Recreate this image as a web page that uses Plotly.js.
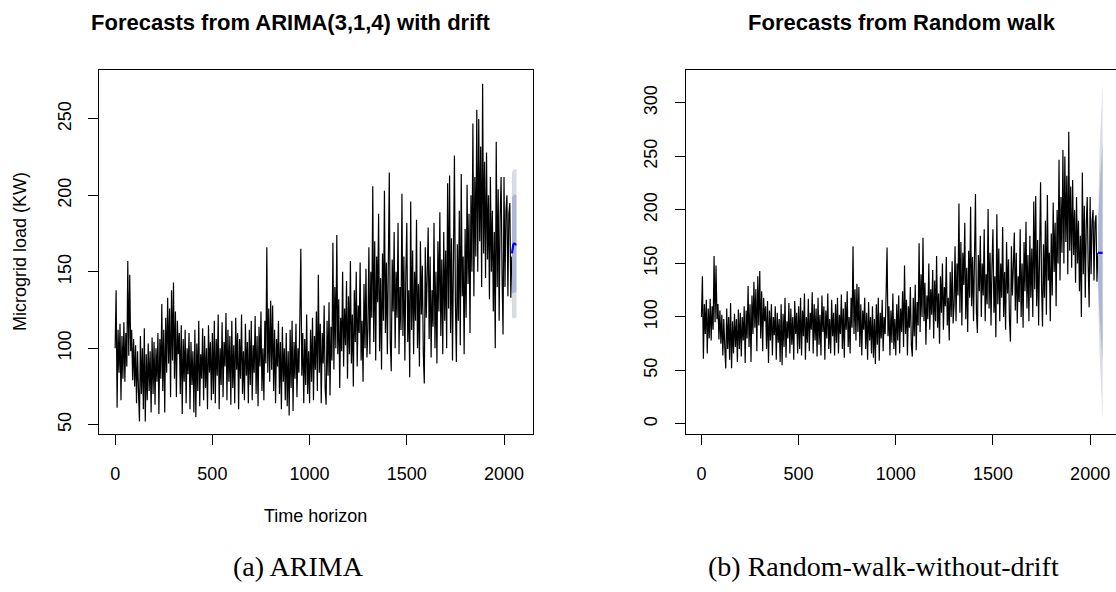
<!DOCTYPE html>
<html><head><meta charset="utf-8">
<script src="https://cdn.plot.ly/plotly-3.0.1.min.js"></script>
<style>html,body{margin:0;padding:0;overflow:hidden;background:#fff}#chart{width:1140px;height:592px}</style>
</head><body><div id="chart"></div>
<script>
// ---- data ----
const timeStart = 0, timeStep = 5;
const load = [
100,138,61,112,84,116,66,108,80,117,78,110,88,157,95,148,98,112,79,106,
75,102,64,98,72,52,108,70,100,60,113,52,96,66,103,72,98,58,107,70,
104,63,100,78,110,57,106,80,129,72,112,58,120,84,133,90,126,68,138,92,
143,80,124,68,118,96,110,70,115,57,106,78,112,64,100,83,110,60,104,76,
98,58,112,55,103,72,118,62,96,80,113,66,108,74,100,60,115,84,104,66,
110,70,118,64,106,82,122,60,100,76,117,68,104,88,123,66,112,78,108,63,
118,74,102,64,120,86,110,60,106,80,122,70,98,66,116,82,104,64,112,76,
118,66,102,84,121,70,108,62,114,88,124,72,100,66,118,90,166,84,126,78,
131,86,128,72,112,64,106,88,118,70,104,60,114,78,100,66,110,62,98,56,
112,74,118,59,104,80,116,68,100,84,120,165,82,110,64,106,76,122,70,98,
64,112,78,120,66,108,86,124,72,148,84,116,64,110,90,128,74,63,118,82,
130,69,114,92,169,86,140,100,174,96,132,74,120,98,150,88,126,102,144,80,
134,96,157,90,122,75,138,104,150,88,128,110,156,92,118,78,142,100,152,94,
112,166,96,150,120,206,104,170,92,160,130,188,98,146,86,162,118,203,110,156,
96,172,215,104,85,158,124,176,100,150,120,182,96,140,112,201,108,160,92,148,
182,104,138,81,196,112,164,96,150,118,184,100,142,88,170,122,154,96,77,166,
120,148,179,106,160,94,138,114,182,100,150,90,170,124,189,108,158,96,176,118,
164,100,208,126,213,110,172,92,186,226,130,91,168,118,190,102,214,134,160,96,
178,120,207,142,188,110,200,150,247,134,212,160,256,150,250,170,232,140,273,162,
222,146,228,158,200,132,212,150,190,124,176,100,235,140,204,118,186,212,148,109,
212,140,190,200,134,188,195,133,160
];
// ARIMA(3,1,4) with drift forecast
const arimaX    = [2041,2044,2048,2052,2056,2060,2064];
const arimaMean = [162,166,168,168.5,168,168,168];
const arimaHi95 = [215,216,217,217,217,217,217];
const arimaLo95 = [120,120,119.5,119.5,119.5,120,120];
const arimaHi80 = [199,200,200,200.5,200.5,200,200];
const arimaLo80 = [136,136,136,136.5,136.5,136.5,136.5];
// Random walk forecast
const rwX    = [2041,2042,2044,2048,2052,2056,2060,2064];
const rwMean = [160,160,160,160,160,160,160,160];
const rwHi95 = [192,205,223,250,270,287,302,318];
const rwLo95 = [128,115,97,70,50,33,18,3];
const rwHi80 = [181,189,201,218,231,242,252,262];
const rwLo80 = [139,131,119,102,89,78,68,58];
const xTicks  = [0,500,1000,1500,2000];
const yTicksA = [50,100,150,200,250];
const yTicksB = [0,50,100,150,200,250,300];

// ---- figure ----
const W = 1140, H = 592;
const time = load.map((_, i) => timeStart + i * timeStep);
const FONT = '"Liberation Sans", Arial, Helvetica, sans-serif';
const SERIF = '"Liberation Serif", "Times New Roman", serif';
const OUTER = '#DADCE4', INNER = '#AEB6D6';
function band(x, hi, lo) { return { x: x.concat(x.slice().reverse()), y: hi.concat(lo.slice().reverse()) }; }
function fanTraces(xa, ya, fx, hi95, lo95, hi80, lo80, mean) {
  const b95 = band(fx, hi95, lo95), b80 = band(fx, hi80, lo80);
  return [
    {type:'scatter', mode:'lines', x:b95.x, y:b95.y, fill:'toself', fillcolor:OUTER, line:{width:0, color:OUTER}, xaxis:xa, yaxis:ya, hoverinfo:'skip', showlegend:false},
    {type:'scatter', mode:'lines', x:b80.x, y:b80.y, fill:'toself', fillcolor:INNER, line:{width:0, color:INNER}, xaxis:xa, yaxis:ya, hoverinfo:'skip', showlegend:false},
    {type:'scatter', mode:'lines', x:fx, y:mean, line:{color:'#0000FF', width:2.2}, xaxis:xa, yaxis:ya, showlegend:false}
  ];
}
const traces = [
  {type:'scatter', mode:'lines', x:time, y:load, line:{color:'#000', width:1.2}, xaxis:'x', yaxis:'y', showlegend:false},
  ...fanTraces('x','y', arimaX, arimaHi95, arimaLo95, arimaHi80, arimaLo80, arimaMean),
  {type:'scatter', mode:'lines', x:time, y:load, line:{color:'#000', width:1.2}, xaxis:'x2', yaxis:'y2', showlegend:false},
  ...fanTraces('x2','y2', rwX, rwHi95, rwLo95, rwHi80, rwLo80, rwMean)
];
function xax(dom, anchor) {
  return {domain:dom, anchor:anchor, range:[-81.52, 2146.52], tickvals:xTicks, ticktext:xTicks.map(String),
    ticks:'outside', ticklen:10, tickwidth:1, tickcolor:'#000', showline:true, mirror:true, linecolor:'#000', linewidth:1,
    showgrid:false, zeroline:false, tickfont:{family:FONT, size:18, color:'#000'}, ticklabelstandoff:13, automargin:false};
}
function yax(dom, anchor, range, tv) {
  return {domain:dom, anchor:anchor, range:range, tickvals:tv, ticktext:tv.map(String), tickangle:-90,
    ticks:'outside', ticklen:10, tickwidth:1, tickcolor:'#000', showline:true, mirror:true, linecolor:'#000', linewidth:1,
    showgrid:false, zeroline:false, tickfont:{family:FONT, size:18, color:'#000'}, ticklabelstandoff:10, automargin:false};
}
const yDom = [1 - 434 / H, 1 - 70 / H];
const ann = (text, px, py, size, family, extra) => Object.assign({text:text, xref:'paper', yref:'paper', x:px / W, y:1 - py / H,
  xanchor:'center', yanchor:'middle', showarrow:false, font:{family:family, size:size, color:'#000'}}, extra || {});
const layout = {
  width:W, height:H, margin:{l:0, r:0, t:0, b:0}, paper_bgcolor:'#fff', plot_bgcolor:'#fff', showlegend:false,
  xaxis: xax([99.3 / W, 532.5 / W], 'y'),
  yaxis: yax(yDom, 'x', [43.88, 282.02], yTicksA),
  xaxis2: xax([685.6 / W, 1118.6 / W], 'y2'),
  yaxis2: yax(yDom, 'x2', [-9.35, 330.8], yTicksB),
  annotations: [
    ann('<b>Forecasts from ARIMA(3,1,4) with drift</b>', 291, 23, 22, FONT),
    ann('<b>Forecasts from Random walk</b>', 902, 23, 22, FONT),
    ann('Microgrid load (KW)', 20, 252, 18, FONT, {textangle:-90}),
    ann('Time horizon', 316, 516, 18, FONT),
    ann('(a) ARIMA', 298, 566, 28, SERIF),
    ann('(b) Random-walk-without-drift', 883.5, 566, 28, SERIF)
  ]
};
Plotly.newPlot('chart', traces, layout, {displayModeBar:false, staticPlot:true, responsive:false});
</script>
</body></html>
